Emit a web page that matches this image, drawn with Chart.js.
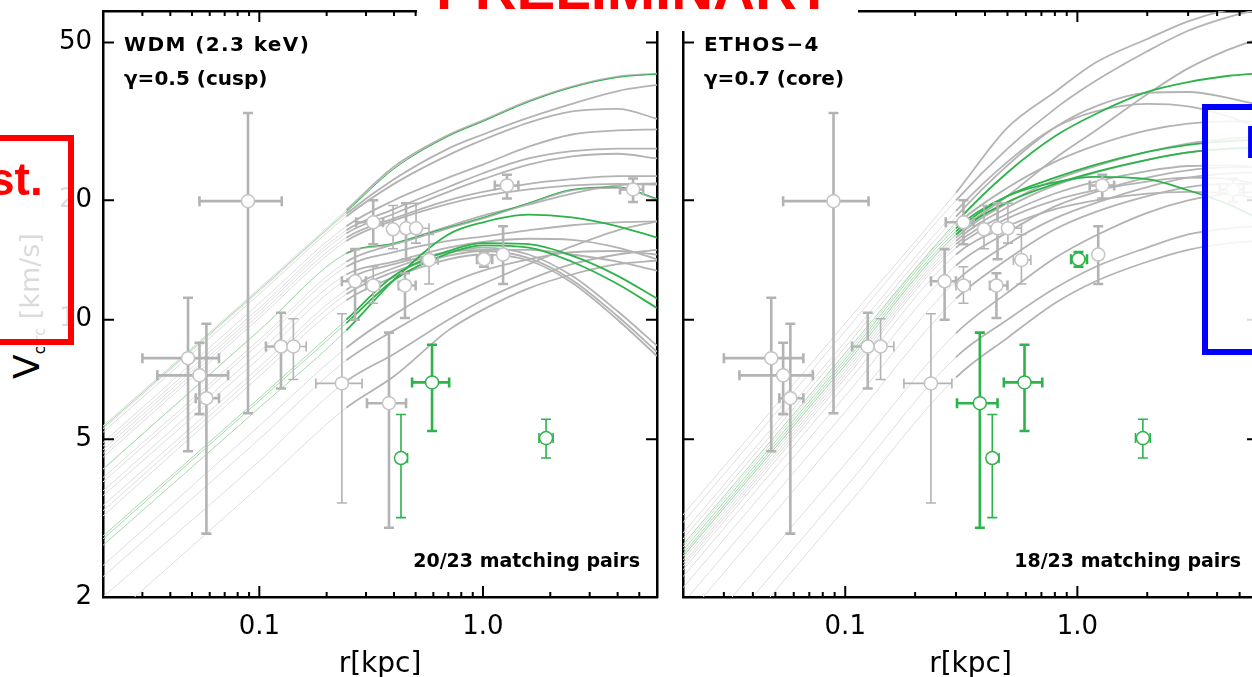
<!DOCTYPE html>
<html>
<head>
<meta charset="utf-8">
<script src="https://cdn.jsdelivr.net/npm/chart.js@4.4.1/dist/chart.umd.min.js"></script>
<style>
html, body { margin:0; padding:0; background:#fff; width:1252px; height:677px; overflow:hidden; position:relative; }
.panel { position:absolute; top:0; height:677px; }
#wrapL { left:0; width:680px; }
#wrapR { left:660px; width:620px; }
#ylab { position:absolute; left:10px; top:379px; transform-origin:0 0; transform:rotate(-90deg);
        white-space:nowrap; font-family:"DejaVu Sans"; font-size:27px; line-height:34px; color:#000; }
#ylab .v { font-size:36px; }
#ylab sub { font-size:15px; }
.box { position:absolute; box-sizing:border-box; background:rgba(255,255,255,0.86); }
#redbox { left:-20px; top:135px; width:94px; height:210px; border:6px solid #ff0000; }
#bluebox { left:1202px; top:104px; width:80px; height:251px; border:6px solid #0000ff; }
.big { position:absolute; font-family:"Liberation Sans"; font-weight:bold; white-space:nowrap; line-height:1; }
#st { left:-11px; top:156px; font-size:46px; color:#ff0000; }
#fb { left:1245px; top:119px; font-size:46px; color:#0000ff; }
#prebg { position:absolute; left:417px; top:0; width:441px; height:31px; background:#fff; }
#pre { left:436px; top:-40px; font-size:58px; color:#ff0000; }
</style>
</head>
<body>
<div id="ylab"><span class="v">V</span><sub>circ</sub> [km/s]</div>
<div class="panel" id="wrapL"><canvas id="wdm"></canvas></div>
<div class="panel" id="wrapR"><canvas id="ethos"></canvas></div>
<div class="box" id="redbox"></div>
<div class="big" id="st">st.</div>
<div class="box" id="bluebox"></div>
<div class="big" id="fb">F</div>
<div id="prebg"></div>
<div class="big" id="pre">PRELIMINARY</div>
<script>
// observed points (same galaxies in both panels)
const rObs = [0.048, 0.054, 0.058, 0.089, 0.125, 0.142, 0.234, 0.380, 0.430, 0.592, 1.915,
              0.323, 0.396, 0.453, 0.502, 0.268, 0.323, 0.448, 0.574, 1.011, 1.23, 1.28, 4.69];
const vObs = [8.0, 7.24, 6.34, 19.9, 8.56, 8.56, 6.91, 6.16, 4.48, 6.95, 5.03,
              17.6, 16.9, 17.0, 17.0, 12.5, 12.2, 12.2, 14.15, 14.2, 14.6, 21.8, 21.3];
const rLo = [0.030, 0.035, 0.052, 0.054, 0.107, 0.130, 0.179, 0.303, 0.41, 0.482, 1.78,
             0.271, 0.38, 0.44, 0.455, 0.234, 0.30, 0.42, 0.53, 0.94, 1.20, 1.13, 4.1];
const rHi = [0.066, 0.0725, 0.066, 0.126, 0.1415, 0.162, 0.288, 0.453, 0.46, 0.706, 2.06,
             0.3575, 0.41, 0.47, 0.574, 0.30, 0.345, 0.50, 0.63, 1.10, 1.26, 1.44, 5.2];
const vLo = [4.66, 5.78, 2.89, 5.81, 6.71, 7.07, 3.45, 2.99, 3.17, 5.24, 4.48,
             15.5, 15.1, 14.2, 15.6, 10.0, 11.0, 10.1, 12.3, 13.6, 12.3, 20.2, 19.8];
const vHi = [11.36, 8.75, 9.77, 33.2, 10.41, 10.06, 10.35, 9.28, 5.77, 8.65, 5.61,
             20.0, 19.4, 19.65, 19.65, 15.06, 13.6, 13.1, 16.4, 14.8, 17.2, 23.2, 22.7];
const ebThick = [1,1,1,1,1,0,0,1,0,1,0, 1,0,1,0,1,0,1,0,1,1,1,1];
const matchWDM   = [1,1,1,1,1,1,1,1,0,0,0, 1,1,1,1,1,1,1,1,1,1,1,1];
const matchETHOS = [1,1,1,1,1,1,1,0,0,0,0, 1,1,1,1,1,1,1,1,0,1,1,1];

// axis ticks
const xMajor = [0.1, 1];
const xMajorLabels = ['0.1', '1.0'];
const xMinor = [0.03,0.04,0.05,0.06,0.07,0.08,0.09, 0.2,0.3,0.4,0.5,0.6,0.7,0.8,0.9, 2,3,4,5];
const yTicks = [2, 5, 10, 20, 50];

// WDM panel model curves
const rGridWDM = [0.02, 0.1, 0.245, 0.4, 0.7, 1.0, 1.6, 2.5, 4, 6];
const rConvWDM = 0.245;
const wdmGray = [
  [5.4, 12.0, 18.9, 24.3, 29.2, 31.8, 35.6, 38.7, 41.0, 41.7],
  [5.3, 11.8, 18.5, 22.6, 27.0, 29.3, 32.3, 35.0, 37.7, 39.1],
  [5.2, 11.6, 18.2, 22.0, 26.0, 28.4, 31.4, 33.5, 34.0, 32.1],
  [4.9, 11.0, 17.2, 20.0, 22.8, 24.6, 27.3, 29.3, 30.0, 30.2],
  [4.8, 10.7, 16.8, 19.0, 21.6, 23.4, 25.5, 26.6, 27.0, 27.0],
  [4.7, 10.5, 16.5, 18.5, 21.0, 22.6, 24.6, 25.8, 26.2, 25.5],
  [4.6, 10.3, 16.1, 18.0, 20.0, 21.0, 22.0, 22.6, 23.0, 23.0],
  [4.5, 10.1, 15.8, 17.8, 19.6, 20.5, 21.3, 21.8, 22.0, 21.9],
  [4.2, 9.4, 14.7, 15.5, 17.0, 18.0, 19.6, 21.2, 21.5, 20.1],
  [4.0, 8.9, 14.0, 15.5, 17.2, 18.3, 19.5, 20.8, 21.8, 22.1],
  [3.9, 8.7, 13.6, 14.8, 15.8, 16.2, 16.8, 17.3, 17.6, 17.7],
  [3.7, 8.3, 13.0, 14.0, 15.2, 15.7, 16.0, 15.9, 15.2, 14.2],
  [3.6, 8.0, 12.6, 13.8, 14.8, 15.0, 15.0, 14.6, 14.0, 13.3],
  [3.4, 7.6, 11.9, 13.5, 14.8, 15.2, 14.6, 12.9, 10.5, 8.6],
  [3.3, 7.4, 11.6, 13.2, 14.5, 14.9, 14.3, 12.6, 10.2, 8.3],
  [3.2, 7.2, 11.2, 12.8, 14.2, 14.6, 14.1, 12.4, 10.0, 8.1],
  [2.25, 5.0, 7.9, 9.4, 11.2, 12.3, 13.8, 15.3, 16.8, 17.7],
  [2.4, 5.4, 8.5, 10.3, 12.3, 13.3, 14.2, 14.8, 14.9, 14.6],
  [2.0, 4.4, 7.0, 8.2, 10.0, 11.2, 12.6, 13.8, 14.6, 15.0],
  [1.7, 3.8, 6.0, 7.2, 9.4, 10.6, 12.0, 13.0, 13.8, 14.1]
];
const wdmGreenThin = [
  [5.35, 11.9, 18.7, 24.0, 29.0, 31.6, 35.4, 38.5, 40.8, 41.6],
  [4.2, 9.4, 14.7, 15.6, 17.1, 18.1, 19.7, 21.3, 21.6, 20.2]
];
const wdmGreen = [
  [2.7, 6.0, 9.4, 12.6, 16.4, 17.6, 18.4, 18.1, 17.2, 16.1],
  [2.8, 6.25, 9.8, 12.6, 14.7, 15.4, 15.2, 14.0, 12.3, 10.7],
  [2.85, 6.35, 10.0, 12.9, 14.9, 15.6, 15.5, 14.5, 12.9, 11.3]
];

// ETHOS-4 panel model curves
const rGridETHOS = [0.02, 0.1, 0.3, 0.5, 0.8, 1.2, 2, 3, 4.5, 6];
const rConvETHOS = 0.3;
const ethosGray = [
  [3.22, 9.8, 20.9, 30.5, 37.5, 44.5, 51.0, 56.5, 60.5, 62.0],
  [3.08, 9.37, 20.0, 27.0, 34.0, 40.0, 47.5, 53.5, 58.0, 60.5],
  [2.53, 7.68, 16.4, 20.5, 25.5, 30.0, 37.0, 43.0, 48.0, 51.0],
  [2.80, 8.52, 18.2, 24.5, 30.5, 34.5, 37.3, 37.5, 36.2, 34.8],
  [2.90, 8.8, 18.8, 25.0, 30.5, 33.5, 35.0, 34.5, 32.5, 30.5],
  [2.67, 8.1, 17.3, 21.5, 25.0, 27.5, 30.0, 31.2, 31.6, 31.6],
  [2.48, 7.54, 16.1, 19.7, 22.5, 24.4, 26.5, 27.8, 28.6, 29.0],
  [2.43, 7.4, 15.8, 19.2, 21.8, 23.5, 25.3, 26.4, 27.0, 27.0],
  [2.39, 7.26, 15.5, 18.5, 20.8, 22.3, 23.7, 24.4, 24.5, 24.2],
  [2.34, 7.12, 15.2, 18.0, 20.0, 21.2, 22.3, 22.8, 22.6, 22.0],
  [2.25, 6.84, 14.6, 17.2, 19.0, 20.0, 20.8, 21.0, 20.8, 20.2],
  [2.11, 6.42, 13.7, 16.6, 19.3, 21.0, 22.8, 23.8, 24.2, 24.2],
  [1.93, 5.86, 12.5, 15.5, 18.0, 19.7, 21.6, 22.8, 23.4, 23.5],
  [1.74, 5.29, 11.3, 14.2, 16.9, 18.7, 20.5, 21.6, 22.0, 22.0],
  [1.43, 4.33, 9.25, 11.7, 14.3, 16.3, 18.6, 20.0, 20.8, 21.0],
  [1.24, 3.77, 8.05, 10.0, 12.0, 13.6, 15.2, 16.4, 17.0, 17.2],
  [1.10, 3.35, 7.15, 9.0, 11.0, 12.5, 14.0, 15.0, 15.6, 15.8]
];
const ethosGreen = [
  [2.71, 8.24, 17.6, 23.5, 29.0, 33.0, 37.5, 39.7, 41.2, 41.8],
  [2.57, 7.82, 16.7, 20.5, 22.8, 24.6, 26.5, 27.6, 28.2, 28.4],
  [2.53, 7.68, 16.4, 19.8, 22.0, 23.6, 25.3, 26.4, 27.0, 27.2],
  [2.62, 7.96, 17.0, 20.5, 22.2, 22.9, 22.6, 21.2, 19.5, 18.0]
];

const GRAY = '#b3b3b3', GRAY_IN = '#dedede', GREEN = '#2db34a', GREEN_IN = '#a6dbae';
const FONT = '"DejaVu Sans"';

function curve(grid, vals, rConv, solid, faint, w) {
  return {
    data: grid.map((r, i) => ({x: r, y: vals[i]})),
    borderColor: solid,
    borderWidth: w,
    pointRadius: 0,
    cubicInterpolationMode: 'monotone',
    segment: {
      borderColor: c => c.p1.parsed.x <= rConv * 1.0001 ? faint : solid,
      borderWidth: c => c.p1.parsed.x <= rConv * 1.0001 ? 1 : w
    }
  };
}

const errorBars = {
  id: 'errorBars',
  beforeDatasetDraw(chart, args, opts) {
    if (args.index !== 0) return;
    const {ctx, scales: {x, y}} = chart;
    ctx.save();
    rObs.forEach((r, i) => {
      const px = x.getPixelForValue(r), py = y.getPixelForValue(vObs[i]);
      const x0 = x.getPixelForValue(rLo[i]), x1 = x.getPixelForValue(rHi[i]);
      const y0 = y.getPixelForValue(vLo[i]), y1 = y.getPixelForValue(vHi[i]);
      ctx.strokeStyle = opts.match[i] ? GRAY : GREEN;
      ctx.lineWidth = ebThick[i] ? 2.6 : 1.6;
      ctx.beginPath();
      ctx.moveTo(x0, py); ctx.lineTo(x1, py);
      ctx.moveTo(x0, py - 5); ctx.lineTo(x0, py + 5);
      ctx.moveTo(x1, py - 5); ctx.lineTo(x1, py + 5);
      ctx.moveTo(px, y0); ctx.lineTo(px, y1);
      ctx.moveTo(px - 5, y0); ctx.lineTo(px + 5, y0);
      ctx.moveTo(px - 5, y1); ctx.lineTo(px + 5, y1);
      ctx.stroke();
    });
    ctx.restore();
  }
};

// IDL style inward ticks on all four sides
const frameTicks = {
  id: 'frameTicks',
  afterDatasetsDraw(chart) {
    const {ctx, chartArea: a, scales: {x, y}} = chart;
    ctx.save();
    ctx.strokeStyle = '#000';
    ctx.lineWidth = 2;
    ctx.beginPath();
    const xt = (v, len) => {
      const px = x.getPixelForValue(v);
      ctx.moveTo(px, a.bottom); ctx.lineTo(px, a.bottom - len);
      ctx.moveTo(px, a.top); ctx.lineTo(px, a.top + len);
    };
    xMinor.forEach(v => xt(v, 5));
    xMajor.forEach(v => xt(v, 11));
    yTicks.forEach(v => {
      const py = y.getPixelForValue(v);
      ctx.moveTo(a.left, py); ctx.lineTo(a.left + 11, py);
      ctx.moveTo(a.right, py); ctx.lineTo(a.right - 11, py);
    });
    ctx.stroke();
    ctx.restore();
  }
};

const panelText = {
  id: 'panelText',
  afterDraw(chart, args, opts) {
    const {ctx, chartArea: a} = chart;
    ctx.save();
    ctx.fillStyle = '#000';
    ctx.textBaseline = 'alphabetic';
    ctx.textAlign = 'left';
    ctx.font = 'bold 20px ' + FONT;
    ctx.letterSpacing = '1.4px';
    ctx.fillText(opts.model, a.left + 21, a.top + 40);
    ctx.letterSpacing = '0px';
    ctx.fillText(opts.gamma, a.left + 21, a.top + 74);
    ctx.textAlign = 'right';
    ctx.font = 'bold 19px ' + FONT;
    ctx.fillText(opts.pairs, a.right - 17, a.bottom - 30);
    ctx.restore();
  }
};

// keep the plot frame exactly where the figure has it
function noPad(s) { s.paddingTop = 0; s.paddingBottom = 0; s.paddingLeft = 0; s.paddingRight = 0; }

function makeChart(id, cfg) {
  const sets = [{
    data: rObs.map((r, i) => ({x: r, y: vObs[i]})),
    showLine: false,
    pointRadius: 6.5,
    pointBackgroundColor: '#ffffff',
    pointBorderColor: cfg.match.map(m => m ? '#c4c4c4' : GREEN),
    pointBorderWidth: 1.5
  }];
  cfg.greenThin.forEach(v => sets.push(curve(cfg.grid, v, cfg.rConv, GREEN, GREEN_IN, 1)));
  cfg.green.forEach(v => sets.push(curve(cfg.grid, v, cfg.rConv, GREEN, GREEN_IN, 1.8)));
  cfg.gray.forEach(v => sets.push(curve(cfg.grid, v, cfg.rConv, GRAY, GRAY_IN, 1.8)));

  const border = {display: true, color: '#000', width: 2.5};
  return new Chart(document.getElementById(id), {
    type: 'line',
    data: {datasets: sets},
    options: {
      responsive: true,
      maintainAspectRatio: false,
      animation: false,
      layout: {padding: 0},
      plugins: {
        legend: {display: false},
        tooltip: {enabled: false},
        errorBars: {match: cfg.match},
        panelText: {model: cfg.model, gamma: cfg.gamma, pairs: cfg.pairs}
      },
      scales: {
        x: {
          type: 'logarithmic', position: 'bottom', min: 0.02, max: 6,
          afterBuildTicks: s => { s.ticks = xMajor.map(v => ({value: v})); },
          afterFit: s => { s.height = 80; noPad(s); },
          ticks: {
            callback: v => xMajorLabels[xMajor.indexOf(v)],
            font: {family: FONT, size: 26}, color: '#000', padding: 15,
            autoSkip: false, maxRotation: 0
          },
          grid: {display: false, drawTicks: false},
          border: border,
          title: {display: true, text: 'r[kpc]', color: '#000',
                  font: {family: FONT, size: 28, lineHeight: 0.9}, padding: {top: 0, bottom: 0}}
        },
        y: {
          type: 'logarithmic', position: 'left', min: 2, max: 60,
          afterBuildTicks: s => { s.ticks = yTicks.map(v => ({value: v})); },
          afterFit: s => { s.width = cfg.leftW; noPad(s); },
          ticks: {
            display: cfg.yLabels,
            callback: v => String(v),
            font: {family: FONT, size: 26}, color: '#000', padding: 11, autoSkip: false
          },
          grid: {display: false, drawTicks: false},
          border: border
        },
        x2: {
          type: 'linear', position: 'top', display: true,
          afterFit: s => { s.height = 11; noPad(s); },
          ticks: {display: false}, grid: {display: false, drawTicks: false}, border: border
        },
        y2: {
          type: 'linear', position: 'right', display: true,
          afterFit: s => { s.width = cfg.rightW; noPad(s); },
          ticks: {display: false}, grid: {display: false, drawTicks: false}, border: border
        }
      }
    },
    plugins: [errorBars, frameTicks, panelText]
  });
}

makeChart('wdm', {
  grid: rGridWDM, rConv: rConvWDM, gray: wdmGray, green: wdmGreen, greenThin: wdmGreenThin,
  match: matchWDM, model: 'WDM (2.3 keV)', gamma: 'γ=0.5 (cusp)', pairs: '20/23 matching pairs',
  leftW: 103, rightW: 23, yLabels: true
});
makeChart('ethos', {
  grid: rGridETHOS, rConv: rConvETHOS, gray: ethosGray, green: ethosGreen, greenThin: [],
  match: matchETHOS, model: 'ETHOS−4', gamma: 'γ=0.7 (core)', pairs: '18/23 matching pairs',
  leftW: 23, rightW: 22, yLabels: false
});
</script>
</body>
</html>
